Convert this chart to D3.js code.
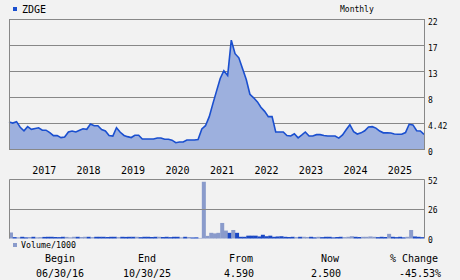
<!DOCTYPE html>
<html>
<head>
<meta charset="utf-8">
<script src="https://cdn.jsdelivr.net/npm/d3@7.9.0/dist/d3.min.js"></script>
<style>
  body { margin: 0; background: #f2f2f2; }
  svg { display: block; font-family: "DejaVu Sans Mono", monospace; }
</style>
</head>
<body>
<svg id="chart" width="460" height="280"></svg>
<script>
// DATA - monthly closes, 06/2016 .. 10/2025
const symbol = 'ZDGE';
const startDate = new Date(Date.UTC(2016, 5, 30));
const endDate = new Date(Date.UTC(2025, 9, 30));
const prices = [
  4.59, 4.4, 4.65, 3.7, 3.1, 3.8, 3.35, 3.5, 3.6, 3.2,
  3.2, 2.8, 2.27, 2.27, 1.93, 2.05, 2.9, 3.06, 2.9, 3.2,
  3.45, 3.35, 4.25, 3.96, 3.96, 3.3, 3.06, 2.3, 2.2, 3.62,
  2.84, 2.3, 2.1, 1.95, 2.33, 2.33, 1.7, 1.7, 1.7, 1.7,
  1.87, 1.87, 1.65, 1.65, 1.5, 1.07, 1.19, 1.19, 1.53, 1.53,
  1.53, 1.6, 3.4, 3.96, 5.5, 7.8, 9.8, 12.0, 13.3, 12.5,
  18.5, 16.2, 15.5, 13.7, 11.8, 9.3, 8.7, 8.0, 7.1, 6.4,
  5.5, 5.5, 2.89, 2.89, 2.89, 2.3, 2.21, 2.6, 1.9, 2.4,
  2.89, 2.2, 2.2, 2.44, 2.44, 2.3, 2.21, 2.21, 2.21, 1.85,
  2.4, 3.3, 4.13, 2.95, 2.55, 2.75, 3.1, 3.75, 3.8, 3.55,
  3.05, 2.75, 2.76, 2.72, 2.55, 2.5, 2.5, 2.8, 4.2, 4.1,
  3.1, 3.06, 2.5
];
// volume in thousands
const volumes = [
  5.3, 1.2, 1.0, 1.5, 1.0, 1.3, 1.5, 1.0, 1.2, 1.4,
  1.5, 1.5, 1.3, 1.2, 1.5, 1.4, 1.0, 1.5, 1.5, 1.3,
  1.5, 1.5, 1.2, 1.5, 1.5, 1.5, 1.3, 1.5, 1.5, 1.2,
  1.5, 1.4, 1.5, 1.5, 1.5, 1.2, 1.5, 1.5, 1.3, 1.5,
  1.5, 1.3, 1.5, 1.2, 1.5, 1.5, 1.0, 1.5, 1.3, 0.9,
  1.0, 0.5, 50, 2.3, 5.0, 4.5, 5.0, 13.7, 7.0, 5.0,
  7.5, 5.0, 1.5, 1.5, 2.5, 2.5, 2.5, 1.8, 3.3, 2.0,
  2.5, 1.5, 1.8, 2.0, 1.5, 1.3, 1.5, 1.2, 1.5, 1.5,
  1.3, 1.5, 1.0, 1.5, 1.2, 1.5, 1.5, 1.0, 1.3, 1.5,
  1.2, 1.5, 2.0, 1.5, 1.3, 1.5, 1.5, 1.8, 1.5, 1.2,
  1.5, 1.3, 4.1, 1.5, 1.2, 1.5, 1.0, 1.5, 7.5, 1.8,
  1.5, 1.2, 1.5
];
const priceTicks = [0, 4.42, 8.84, 13.26, 17.68, 22.1];
const priceTickLabels = ['0', '4.42', '8', '13', '17', '22'];
const volumeTicks = [0, 26, 52];
const years = [2017, 2018, 2019, 2020, 2021, 2022, 2023, 2024, 2025];
const summaryHeads = ['Begin', 'End', 'From', 'Now', '% Change'];
const summaryValues = ['06/30/16', '10/30/25', '4.590', '2.500', '-45.53%'];

// LAYOUT
const svg = d3.select('#chart');
const left = 9, right = 424;
const pTop = 19, pBottom = 149;
const vTop = 179.5, vBottom = 238.5;
const grid = '#888';
const lineBlue = '#1a4fcf';
const areaBlue = '#9db0de';
const volLight = '#8a9bcb';
const volDark = '#1a48c4';

// month dates for each point
const dates = prices.map((_, i) => {
  const d = d3.utcMonth.offset(d3.utcMonth.floor(startDate), i);
  return i === prices.length - 1 ? endDate : d3.utcDay.offset(d3.utcMonth.offset(d, 1), -1);
});

const x = d3.scaleUtc().domain([startDate, endDate]).range([left, right]);
const y = d3.scaleLinear().domain([0, 22.1]).range([pBottom, pTop]);
const yv = d3.scaleLinear().domain([0, 52]).range([vBottom, vTop]);

svg.append('rect').attr('width', 460).attr('height', 280).attr('fill', '#f2f2f2');

// price gridlines and labels
priceTicks.forEach((t, i) => {
  svg.append('line')
    .attr('x1', left).attr('x2', right)
    .attr('y1', Math.round(y(t)) + 0.5).attr('y2', Math.round(y(t)) + 0.5)
    .attr('stroke', grid);
  svg.append('text')
    .attr('x', right + 4).attr('y', Math.round(y(t)) + 5.5)
    .attr('font-size', 8).attr('fill', '#000')
    .text(priceTickLabels[i]);
});

// area + line
const area = d3.area()
  .x((d, i) => x(dates[i]))
  .y0(pBottom)
  .y1(d => y(d));
const line = d3.line()
  .x((d, i) => x(dates[i]))
  .y(d => y(d));

svg.append('path').attr('d', area(prices)).attr('fill', areaBlue);
svg.append('path').attr('d', line(prices))
  .attr('fill', 'none').attr('stroke', lineBlue).attr('stroke-width', 1.6);

// border of price panel
svg.append('rect')
  .attr('x', left + 0.5).attr('y', pTop + 0.5)
  .attr('width', right - left).attr('height', pBottom - pTop)
  .attr('fill', 'none').attr('stroke', grid);

// year labels
years.forEach(yr => {
  svg.append('text')
    .attr('x', x(new Date(Date.UTC(yr, 3, 15))))
    .attr('y', 174)
    .attr('text-anchor', 'middle')
    .attr('font-size', 10)
    .text(yr);
});

// volume panel
svg.append('clipPath').attr('id', 'vclip')
  .append('rect').attr('x', left).attr('y', vTop)
  .attr('width', right - left).attr('height', vBottom - vTop + 1);

const bw = (right - left) / (prices.length - 1);
svg.append('g').attr('clip-path', 'url(#vclip)')
  .selectAll('rect')
  .data(volumes)
  .join('rect')
  .attr('x', (d, i) => x(dates[i]))
  .attr('width', bw + 0.3)
  .attr('y', d => yv(d))
  .attr('height', d => vBottom - yv(d))
  // darker bar for months that did not close higher
  .attr('fill', (d, i) => (i > 0 && prices[i] <= prices[i - 1]) ? volDark : volLight);

svg.append('line')
  .attr('x1', left).attr('x2', right)
  .attr('y1', Math.round(yv(26)) + 0.5).attr('y2', Math.round(yv(26)) + 0.5)
  .attr('stroke', grid);
svg.append('path')
  .attr('d', `M${left + 0.5},${vBottom}V${vTop}H${right + 0.5}V${vBottom}`)
  .attr('fill', 'none').attr('stroke', grid);

volumeTicks.forEach(t => {
  svg.append('text')
    .attr('x', right + 4).attr('y', yv(t) + 4)
    .attr('font-size', 8)
    .text(t);
});

// legends
svg.append('rect').attr('x', 13).attr('y', 7).attr('width', 4).attr('height', 4).attr('fill', lineBlue);
svg.append('text').attr('x', 22).attr('y', 13).attr('font-size', 10).text(symbol);
svg.append('text').attr('x', 340).attr('y', 12).attr('font-size', 8).text('Monthly');

svg.append('rect').attr('x', 13).attr('y', 243).attr('width', 4).attr('height', 4).attr('fill', volLight);
svg.append('text').attr('x', 21).attr('y', 247.5).attr('font-size', 8.3).text('Volume/1000');

// summary row
const headX = [60, 147, 241, 330, 414];
const valX = [60, 147, 239, 326, 420];
summaryHeads.forEach((h, i) => {
  svg.append('text').attr('x', headX[i]).attr('y', 262)
    .attr('text-anchor', 'middle').attr('font-size', 10).text(h);
  svg.append('text').attr('x', valX[i]).attr('y', 276.5)
    .attr('text-anchor', 'middle').attr('font-size', 10).text(summaryValues[i]);
});
</script>
</body>
</html>
